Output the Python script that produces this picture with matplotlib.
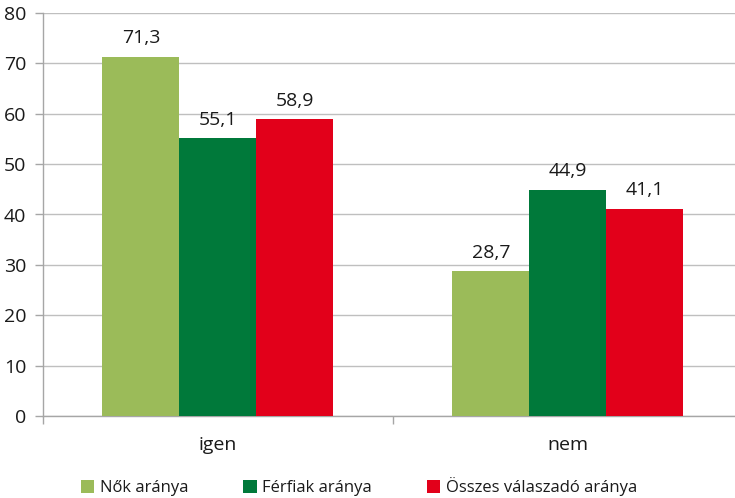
import matplotlib
matplotlib.use("Agg")
import matplotlib.pyplot as plt
import numpy as np

categories = ["igen", "nem"]
series_names = ["Nők aránya", "Férfiak aránya", "Összes válaszadó aránya"]
nok = [71.3, 28.7]
ferfiak = [55.1, 44.9]
osszes = [58.9, 41.1]
colors = ["#9BBB59", "#00793A", "#E2001A"]
yticks = [0, 10, 20, 30, 40, 50, 60, 70, 80]

plt.rcParams["font.family"] = ["Open Sans", "DejaVu Sans"]
TXT = "#1a1a1a"

fig = plt.figure(figsize=(7.35, 4.98), dpi=100)
ax = fig.add_axes([43 / 735, 1 - 416 / 498, 700 / 735, (416 - 13) / 498])

x = np.arange(len(categories))
w = 0.22
for k, (vals, name, col) in enumerate(zip([nok, ferfiak, osszes], series_names, colors)):
    bars = ax.bar(x + (k - 1) * w, vals, width=w, color=col, label=name, zorder=3)
    for b, v in zip(bars, vals):
        ax.annotate(f"{v:.1f}".replace(".", ","),
                    xy=(b.get_x() + b.get_width() / 2, v),
                    xytext=(0, 7), textcoords="offset points",
                    ha="center", va="bottom", fontsize=14, color=TXT)

ax.set_xlim(-0.5, len(categories) - 0.5)
ax.set_ylim(0, 80)
ax.set_yticks(yticks)
ax.tick_params(axis="y", labelsize=14, length=6, width=1, color="#A6A6A6",
               pad=6, labelcolor=TXT)
ax.yaxis.grid(True, color="#BFBFBF", linewidth=1, zorder=0)
ax.set_axisbelow(True)

ax.set_xticks(np.arange(-0.5, len(categories), 1.0))
ax.set_xticklabels([])
ax.tick_params(axis="x", length=6, width=1, color="#A6A6A6")
for i, c in enumerate(categories):
    ax.annotate(c, xy=(i, 0), xycoords=("data", "axes fraction"),
                xytext=(0, -21), textcoords="offset points",
                ha="center", va="center", fontsize=14, color=TXT)

for s in ["top", "right"]:
    ax.spines[s].set_visible(False)
for s in ["left", "bottom"]:
    ax.spines[s].set_color("#A6A6A6")
    ax.spines[s].set_linewidth(1)

h, l = ax.get_legend_handles_labels()
fig.legend(h, l, loc="center", bbox_to_anchor=(359 / 735, 1 - 487 / 498),
           ncol=3, frameon=False, fontsize=12, handlelength=0.8,
           handleheight=0.8, handletextpad=0.35, columnspacing=3.3,
           labelcolor=TXT, borderpad=0)

fig.savefig("out.png", dpi=100)
